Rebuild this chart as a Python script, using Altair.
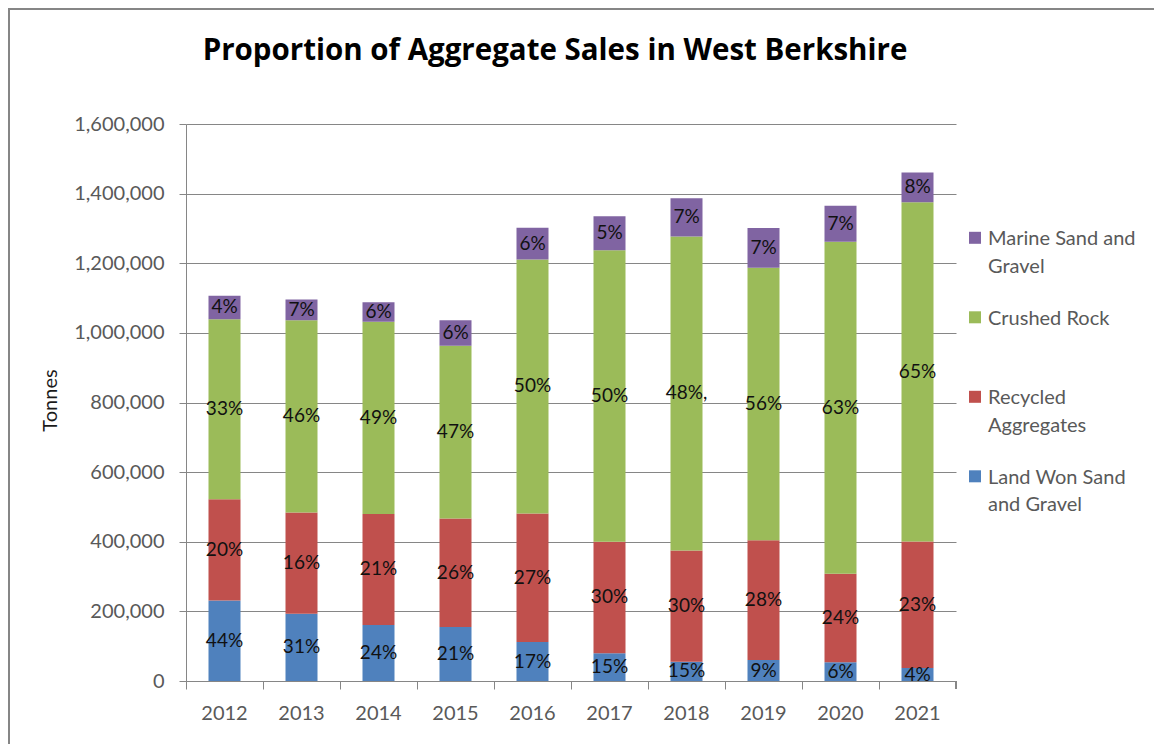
import altair as alt
import pandas as pd

years = ["2012", "2013", "2014", "2015", "2016", "2017", "2018", "2019", "2020", "2021"]
series = ["Marine Sand and Gravel", "Crushed Rock", "Recycled Aggregates", "Land Won Sand and Gravel"]
colors = ["#8064A2", "#9BBB59", "#C0504D", "#4F81BD"]

land_won = [231000, 193000, 161000, 155000, 112000, 80000, 55000, 60000, 54000, 37000]
recycled = [291000, 291000, 319000, 312000, 369000, 320000, 320000, 344000, 254000, 364000]
crushed = [517000, 552000, 552000, 496000, 730000, 837000, 902000, 783000, 954000, 974000]
marine = [68000, 60000, 56000, 73000, 91000, 98000, 110000, 114000, 103000, 86000]

land_won_lbl = ["44%", "31%", "24%", "21%", "17%", "15%", "15%", "9%", "6%", "4%"]
recycled_lbl = ["20%", "16%", "21%", "26%", "27%", "30%", "30%", "28%", "24%", "23%"]
crushed_lbl = ["33%", "46%", "49%", "47%", "50%", "50%", "48%,", "56%", "63%", "65%"]
marine_lbl = ["4%", "7%", "6%", "6%", "6%", "5%", "7%", "7%", "7%", "8%"]

y_ticks = [0, 200000, 400000, 600000, 800000, 1000000, 1200000, 1400000, 1600000]

rows = []
stack_order = [
    ("Land Won Sand and Gravel", land_won, land_won_lbl),
    ("Recycled Aggregates", recycled, recycled_lbl),
    ("Crushed Rock", crushed, crushed_lbl),
    ("Marine Sand and Gravel", marine, marine_lbl),
]
for i, yr in enumerate(years):
    base = 0
    for k, (name, vals, lbls) in enumerate(stack_order):
        v = vals[i]
        rows.append({"year": yr, "type": name, "value": v, "ord": k,
                     "lbl": lbls[i], "y0": base, "y1": base + v, "mid": base + v / 2})
        base += v
df = pd.DataFrame(rows)

FONT = "Lato"
GRID = "#868686"

x_enc = alt.X("year:N", title=None, sort=years,
              scale=alt.Scale(paddingInner=0, paddingOuter=0),
              axis=alt.Axis(bandPosition=0, tickSize=8, labelPadding=14, labelAngle=0,
                            labelFontSize=20, labelColor="#595959", labelFont=FONT,
                            domainColor=GRID, tickColor=GRID, grid=False))

y_scale = alt.Scale(domain=[0, 1600000], nice=False)

bars = alt.Chart(df).mark_bar(size=32).encode(
    x=x_enc,
    y=alt.Y("y0:Q", scale=y_scale, title="Tonnes",
            axis=alt.Axis(values=y_ticks, format=",d", tickSize=7, labelPadding=15,
                          labelFontSize=20, labelColor="#595959", labelFont=FONT,
                          domainColor=GRID, tickColor=GRID, gridColor=GRID, grid=True,
                          titleFont=FONT, titleFontSize=20, titleFontWeight="normal",
                          titleColor="#1a1a1a", titleX=-130, titleY=276,
                          titleBaseline="alphabetic", titleAngle=-90, titleAlign="center")),
    y2="y1:Q",
    color=alt.Color("type:N", title=None,
                    scale=alt.Scale(domain=series, range=colors),
                    legend=alt.Legend(
                        orient="none", legendX=779, legendY=111, padding=0,
                        symbolType="M-1,-2.2H1V-0.2H-1Z", symbolSize=144,
                        symbolStrokeWidth=0, symbolOpacity=1,
                        labelFont=FONT, labelFontSize=20, labelColor="#595959",
                        labelBaseline="alphabetic", labelOffset=3, labelLimit=400,
                        rowPadding=31.5, gridAlign="all",
                        labelExpr=("datum.label == 'Marine Sand and Gravel' ? ['Marine Sand and', 'Gravel'] : "
                                   "datum.label == 'Recycled Aggregates' ? ['Recycled', 'Aggregates'] : "
                                   "datum.label == 'Land Won Sand and Gravel' ? ['Land Won Sand', 'and Gravel'] : "
                                   "[datum.label, '']"))),
    order=alt.Order("ord:Q", sort="ascending"),
)

labels = alt.Chart(df).mark_text(font=FONT, fontSize=19, color="#111111",
                                 baseline="middle", align="center").encode(
    x=alt.X("year:N", sort=years),
    y=alt.Y("mid:Q", scale=y_scale),
    text="lbl:N",
)

border_top = alt.Chart(df).mark_rule(color="#868686", strokeWidth=1.5).encode(
    x=alt.value(-178), x2=alt.value(968), y=alt.value(-115.25))
border_left = alt.Chart(df).mark_rule(color="#868686", strokeWidth=1.5).encode(
    x=alt.value(-177.25), y=alt.value(-115.25), y2=alt.value(640))
end_tick = alt.Chart(df).mark_rule(color=GRID).encode(
    x=alt.value(770), y=alt.value(557), y2=alt.value(565))

chart = alt.layer(bars, labels, border_top, border_left, end_tick).properties(
    width=770, height=557,
    autosize=alt.AutoSizeParams(type="none"),
    padding={"left": 178, "top": 116, "right": 198, "bottom": 63},
    title=alt.Title("Proportion of Aggregate Sales in West Berkshire",
                    font="Open Sans", fontSize=29.5, fontWeight="bold", color="#000000",
                    anchor="middle", dx=-16, dy=81, offset=0, baseline="alphabetic"),
).configure(
    background="white",
    style={"guide-label": {"lineHeight": 27.6}},
).configure_view(stroke=None)

chart.save("out.html", embed_options={"renderer": "svg", "actions": False})
